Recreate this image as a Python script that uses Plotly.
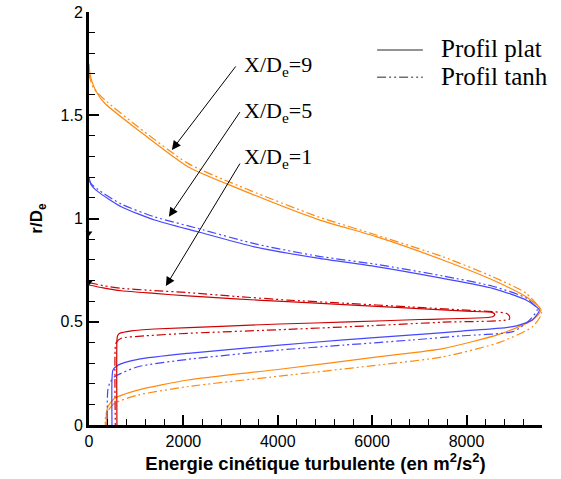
import plotly.graph_objects as go

# energie cinetique turbulente (m2/s2) vs r/De, parcours: branche haute -> pointe -> branche basse
k1_plat_x = [0, 300, 684, 1390, 2095, 3100, 4211, 5400, 6800, 8000, 8555, 8600, 8555, 7000, 5500, 4042, 2800, 1390, 900, 650, 605, 592, 592]
k1_plat_y = [0.678, 0.664, 0.650, 0.637, 0.625, 0.611, 0.597, 0.583, 0.566, 0.551, 0.544, 0.535, 0.524, 0.511, 0.499, 0.489, 0.478, 0.465, 0.456, 0.444, 0.432, 0.41, 0]
k1_tanh_x = [0, 300, 684, 1390, 2095, 3100, 4211, 5400, 6800, 8000, 8600, 8838, 8908, 8908, 7500, 6000, 4211, 2095, 1200, 684, 580, 557, 557]
k1_tanh_y = [0.69, 0.675, 0.662, 0.651, 0.641, 0.623, 0.605, 0.590, 0.572, 0.556, 0.548, 0.541, 0.528, 0.512, 0.498, 0.481, 0.463, 0.444, 0.432, 0.42, 0.40, 0.379, 0]

k5_plat_x = [0, 40, 190, 684, 1390, 2306, 3506, 4846, 6088, 7497, 8555, 9262, 9543, 9400, 8979, 7900, 6862, 5400, 4042, 2095, 1037, 614, 508, 487, 487]
k5_plat_y = [1.202, 1.165, 1.13, 1.057, 0.993, 0.936, 0.863, 0.808, 0.767, 0.710, 0.662, 0.605, 0.557, 0.51, 0.476, 0.455, 0.436, 0.412, 0.387, 0.347, 0.318, 0.29, 0.266, 0.22, 0]
k5_tanh_x = [0, 40, 190, 684, 1390, 2306, 3506, 4846, 6088, 7497, 8555, 9262, 9500, 9300, 8979, 7900, 6862, 5400, 4042, 2095, 1037, 543, 437, 400, 388, 388]
k5_tanh_y = [1.19, 1.17, 1.14, 1.07, 1.008, 0.952, 0.878, 0.818, 0.778, 0.722, 0.672, 0.615, 0.56, 0.50, 0.452, 0.432, 0.412, 0.387, 0.363, 0.318, 0.282, 0.234, 0.202, 0.17, 0.12, 0]

k9_plat_x = [0, 20, 60, 155, 332, 1037, 2095, 3153, 4846, 6088, 7497, 8555, 9262, 9579, 9402, 8700, 7500, 6158, 4042, 2095, 1037, 543, 402, 367, 367]
k9_plat_y = [1.75, 1.70, 1.665, 1.614, 1.558, 1.429, 1.251, 1.146, 0.996, 0.912, 0.799, 0.702, 0.621, 0.557, 0.508, 0.44, 0.37, 0.331, 0.27, 0.218, 0.169, 0.129, 0.089, 0.05, 0]
k9_tanh_x = [0, 30, 100, 332, 1037, 2095, 3153, 4846, 6088, 7497, 8555, 9262, 9595, 9400, 8700, 7500, 6158, 4042, 2095, 1037, 543, 366, 346, 346]
k9_tanh_y = [1.70, 1.67, 1.63, 1.575, 1.444, 1.267, 1.16, 1.009, 0.920, 0.815, 0.718, 0.638, 0.545, 0.476, 0.40, 0.33, 0.291, 0.237, 0.186, 0.145, 0.105, 0.057, 0.03, 0]

# petits reperes noirs sur l'axe des ordonnees
axis_marks_y = [0.93, 0.69]

stations = ["X/D<sub>e</sub>=9", "X/D<sub>e</sub>=5", "X/D<sub>e</sub>=1"]
legend_labels = ["Profil plat", "Profil tanh"]

RED, BLUE, ORANGE = "#d00000", "#4646ff", "#ff8a10"
DASHDOT = "9px,3px,2px,3px,2px,3px"
SERIF = "Times New Roman, Liberation Serif, serif"
SANS = "Arial, Liberation Sans, Helvetica, sans-serif"

series = [
    (k9_plat_x, k9_plat_y, ORANGE, "solid"),
    (k9_tanh_x, k9_tanh_y, ORANGE, DASHDOT),
    (k5_plat_x, k5_plat_y, BLUE, "solid"),
    (k5_tanh_x, k5_tanh_y, BLUE, DASHDOT),
    (k1_plat_x, k1_plat_y, RED, "solid"),
    (k1_tanh_x, k1_tanh_y, RED, DASHDOT),
]

fig = go.Figure()
for xs, ys, col, dash in series:
    fig.add_trace(go.Scatter(x=xs, y=ys, mode="lines", showlegend=False,
                             line=dict(color=col, width=1.2, dash=dash,
                                       shape="spline", smoothing=0.6)))

fig.add_trace(go.Scatter(x=[0] * len(axis_marks_y), y=axis_marks_y, mode="markers",
                         showlegend=False, cliponaxis=False,
                         marker=dict(symbol="triangle-down", size=6, color="black")))

# fleches vers chaque station
heads = [(1756, 1.332, 65, -85), (1693, 1.009, 72, -106), (1629, 0.673, 75, -124)]
label_y = [1.74, 1.517, 1.293]
for (hx, hy, ax, ay), txt, ly in zip(heads, stations, label_y):
    fig.add_annotation(x=hx, y=hy, ax=ax, ay=ay, text="", showarrow=True,
                       arrowhead=2, arrowsize=1.8, arrowwidth=1, arrowcolor="black")
    fig.add_annotation(x=3240, y=ly, text=txt, showarrow=False, xanchor="left",
                       yanchor="middle", font=dict(family=SERIF, size=22, color="black"))

# legende faite a la main
for i, (lab, dash) in enumerate(zip(legend_labels, ["solid", DASHDOT])):
    yy = 0.908 - i * 0.066
    fig.add_shape(type="line", xref="paper", yref="paper", x0=0.636, x1=0.737,
                  y0=yy, y1=yy, line=dict(color="#707070", width=1.5, dash=dash))
    fig.add_annotation(xref="paper", yref="paper", x=0.772, y=yy + 0.003, text=lab,
                       showarrow=False, xanchor="left", yanchor="middle",
                       font=dict(family=SERIF, size=25, color="black"))

axis_common = dict(showgrid=False, zeroline=False, showline=True, linecolor="black",
                   linewidth=3, ticks="inside", ticklen=10, tickwidth=2, automargin=False,
                   ticklabeloverflow="allow",
                   tickcolor="black", tickfont=dict(family=SANS, size=16, color="black"))

fig.update_xaxes(range=[0, 9600], tick0=0, dtick=2000,
                 minor=dict(ticks="inside", ticklen=6, tickwidth=1, dtick=400, tickcolor="black"),
                 title=dict(text="<b>Energie cinétique turbulente (en m<sup>2</sup>/s<sup>2</sup>)</b>",
                            font=dict(family=SANS, size=18.5, color="black"), standoff=6),
                 **axis_common)
fig.update_yaxes(range=[0, 2], tick0=0, dtick=0.5,
                 minor=dict(ticks="inside", ticklen=6, tickwidth=1, dtick=0.1, tickcolor="black"),
                 title=dict(text="<b>r/D<sub>e</sub></b>",
                            font=dict(family=SANS, size=17, color="black"), standoff=14),
                 **axis_common)

fig.update_layout(width=561, height=479, margin=dict(l=89, r=19, t=12, b=54),
                  plot_bgcolor="white", paper_bgcolor="white")

# pas de marge du navigateur autour du graphique
fig.write_html("out.html", config={"displayModeBar": False},
               post_script="document.body.style.margin='0px';")
